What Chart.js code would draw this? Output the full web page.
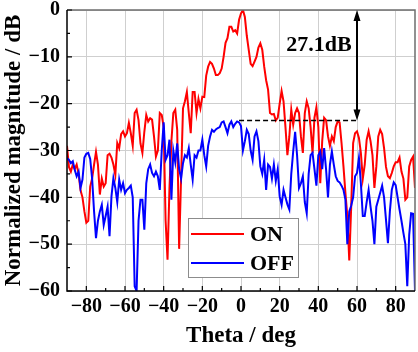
<!DOCTYPE html>
<html>
<head>
<meta charset="utf-8">
<script src="https://cdn.jsdelivr.net/npm/chart.js@4.4.0/dist/chart.umd.min.js"></script>
<style>
  html, body { margin: 0; padding: 0; background: #fff; }
</style>
</head>
<body>
<canvas id="chart" width="418" height="352"></canvas>
<script>
// Angles in degrees
const ANGLES = [
  -90, -89, -88, -87, -86, -85, -84, -83, -82, -81,
  -80, -79, -78, -77, -76, -75, -74, -73, -72, -71,
  -70, -69, -68, -67, -66, -65, -64, -63, -62, -61,
  -60, -59, -58, -57, -56, -55, -54, -53, -52, -51,
  -50, -49, -48, -47, -46, -45, -44, -43, -42, -41,
  -40, -39, -38, -37, -36, -35, -34, -33, -32, -31,
  -30, -29, -28, -27, -26, -25, -24, -23, -22, -21,
  -20, -19, -18, -17, -16, -15, -14, -13, -12, -11,
  -10, -9, -8, -7, -6, -5, -4, -3, -2, -1,
  0, 1, 2, 3, 4, 5, 6, 7, 8, 9,
  10, 11, 12, 13, 14, 15, 16, 17, 18, 19,
  20, 21, 22, 23, 24, 25, 26, 27, 28, 29,
  30, 31, 32, 33, 34, 35, 36, 37, 38, 39,
  40, 41, 42, 43, 44, 45, 46, 47, 48, 49,
  50, 51, 52, 53, 54, 55, 56, 57, 58, 59,
  60, 61, 62, 63, 64, 65, 66, 67, 68, 69,
  70, 71, 72, 73, 74, 75, 76, 77, 78, 79,
  80, 81, 82, 83, 84, 85, 86, 87, 88, 89,
  90
];

// Normalized magnitude (dB), state ON
const ON_DB = [
  -29, -33.5, -34.5, -33, -34, -33, -35, -38.5, -40, -43,
  -45.4, -45, -37.7, -36, -33, -30.3, -33, -39.4, -36, -37.7,
  -37, -31, -30.7, -31.5, -33, -35.2, -28.4, -29.5, -26.5, -25.9,
  -27, -26.3, -24.1, -26.3, -29, -22, -21.3, -23.5, -28.5, -30.5,
  -26, -22.4, -23.8, -23.1, -23.4, -27, -31.3, -30, -22, -22.4,
  -25, -45, -53.3, -38, -28, -22, -21.3, -25.6, -51, -36,
  -21, -19.5, -17.5, -22, -26.3, -17.5, -17.5, -22, -19, -21,
  -18.5, -18.6, -14, -12.1, -11.1, -11.5, -12.5, -13.9, -13.9, -13.5,
  -12.5, -10, -7, -6, -3.6, -3.6, -4.6, -4.3, -5, -2.1,
  -0.7, 0, -1.5, -5.5, -8.5, -11.5, -12, -11, -10, -8,
  -7.1, -8.5, -12.1, -15, -17, -22, -22.3, -22.2, -23.6, -23,
  -20, -17.3, -19.5, -25, -31, -27, -21.3, -24.5, -22, -21,
  -22, -27, -30.5, -22, -19.5, -21, -25, -30.5, -23, -20.8,
  -25, -37, -28, -23, -23.5, -27, -29, -27, -28, -25,
  -23.8, -24, -28.4, -33.4, -39, -44, -53.5, -42, -28.4, -26.3,
  -25.9, -27.3, -30.5, -36, -33, -27.7, -25.9, -28, -31, -38,
  -33.4, -27, -25.6, -26.5, -29.5, -33.5, -35.5, -35.9, -34.8, -33.4,
  -32.5, -32.5, -31.5, -34.5, -36, -40.5, -40, -33.4, -32, -31.3,
  -38
];

// Normalized magnitude (dB), state OFF
const OFF_DB = [
  -31.6, -32, -32.7, -32.3, -34.1, -35.5, -34.5, -38, -36.2, -31.5,
  -30.7, -30.5, -31.8, -36, -43, -48.7, -45, -43, -41.6, -45.9,
  -44, -42, -48.3, -39.8, -35.9, -38, -41, -36.2, -38.4, -37,
  -39.1, -38.4, -38, -37.5, -40, -59, -60, -45, -40.5, -40.5,
  -46.9, -37, -34, -33, -34.8, -35.5, -34.5, -35.5, -38.4, -30,
  -24, -32, -31, -27.7, -40.5, -30, -32.5, -28.5, -34, -36,
  -32.7, -31, -31.5, -29.5, -33, -36.2, -31, -31.5, -30, -30,
  -27.7, -31, -33.4, -29, -27, -25.6, -26, -25.5, -25.2, -25,
  -24, -23.8, -25, -26.3, -24.5, -23.8, -25, -24.3, -23.8, -24,
  -24.8, -30, -28, -25.6, -26.5, -30, -32, -27, -25.9, -28,
  -33.4, -35, -32, -38.4, -33, -33.5, -36, -33, -36.5, -34,
  -39.8, -41.6, -38.4, -40, -41.5, -42.6, -35, -30.2, -26, -31,
  -38, -37, -35.5, -41, -43.4, -35, -31, -30.5, -34, -37.5,
  -31, -30.2, -34, -29.5, -34, -40, -33, -30.2, -33, -35.5,
  -36.5, -36.8, -37.5, -38.4, -40.5, -50, -43, -41.8, -40, -35.5,
  -34.8, -31.6, -37, -44, -44, -41, -38.4, -42, -45, -50,
  -42, -40.5, -39, -37.5, -40, -44.8, -49.8, -43, -38.4, -36.8,
  -37.4, -40, -42.6, -45, -47.6, -50, -59, -48, -43.4, -43.5,
  -60
];

const X_TICKS = [-80, -60, -40, -20, 0, 20, 40, 60, 80];
const X_MINOR = [-70, -50, -30, -10, 10, 30, 50, 70];
const Y_TICKS = [-60, -50, -40, -30, -20, -10, 0];
const Y_MINOR = [-55, -45, -35, -25, -15, -5];

// Annotation: reference level and gap
const REF_LEVEL = -23.6;
const REF_FROM = -1;
const REF_TO = 60;
const PEAK_LEVEL = 0;
const GAP_TEXT = '27.1dB';
const GAP_TEXT_AT = { x: 40.3, y: -7.6 };

const SERIF = "'Liberation Serif', 'Times New Roman', serif";

const toPoints = vals => ANGLES.map((a, i) => ({ x: a, y: vals[i] }));
const minus = v => String(v).replace('-', '\u2212');

// Frame with inward ticks (left/bottom black, top/right grey)
const frameTicks = {
  id: 'frameTicks',
  afterDatasetsDraw(chart) {
    const { ctx, chartArea: a, scales: { x, y } } = chart;
    ctx.save();
    ctx.lineWidth = 1.5;
    ctx.strokeStyle = '#6e6e6e';
    ctx.beginPath();
    ctx.moveTo(a.left, a.top);
    ctx.lineTo(a.right, a.top);
    ctx.lineTo(a.right, a.bottom);
    ctx.stroke();

    ctx.strokeStyle = '#000';
    ctx.beginPath();
    ctx.moveTo(a.left, a.top);
    ctx.lineTo(a.left, a.bottom);
    ctx.lineTo(a.right, a.bottom);
    ctx.stroke();

    ctx.lineWidth = 1.2;
    ctx.beginPath();
    X_TICKS.forEach(v => {
      const px = x.getPixelForValue(v);
      ctx.moveTo(px, a.bottom); ctx.lineTo(px, a.bottom - 5);
    });
    X_MINOR.forEach(v => {
      const px = x.getPixelForValue(v);
      ctx.moveTo(px, a.bottom); ctx.lineTo(px, a.bottom - 3);
    });
    Y_TICKS.forEach(v => {
      const py = y.getPixelForValue(v);
      ctx.moveTo(a.left, py); ctx.lineTo(a.left + 5, py);
    });
    Y_MINOR.forEach(v => {
      const py = y.getPixelForValue(v);
      ctx.moveTo(a.left, py); ctx.lineTo(a.left + 3, py);
    });
    ctx.stroke();
    ctx.restore();
  }
};

// Dashed reference line, double arrow and gap label
const gapAnnotation = {
  id: 'gapAnnotation',
  afterDatasetsDraw(chart) {
    const { ctx, scales: { x, y } } = chart;
    const yRef = y.getPixelForValue(REF_LEVEL);
    const yTop = y.getPixelForValue(PEAK_LEVEL);
    const xa = x.getPixelForValue(REF_TO);
    ctx.save();
    ctx.strokeStyle = '#000';
    ctx.lineWidth = 1.5;
    ctx.setLineDash([5, 3]);
    ctx.beginPath();
    ctx.moveTo(x.getPixelForValue(REF_FROM), yRef);
    ctx.lineTo(xa, yRef);
    ctx.stroke();
    ctx.setLineDash([]);

    ctx.lineWidth = 2;
    ctx.beginPath();
    ctx.moveTo(xa, yTop + 8);
    ctx.lineTo(xa, yRef - 8);
    ctx.stroke();
    ctx.fillStyle = '#000';
    ctx.beginPath();
    ctx.moveTo(xa, yTop);
    ctx.lineTo(xa - 3.5, yTop + 11);
    ctx.lineTo(xa + 3.5, yTop + 11);
    ctx.closePath();
    ctx.moveTo(xa, yRef);
    ctx.lineTo(xa - 3.5, yRef - 11);
    ctx.lineTo(xa + 3.5, yRef - 11);
    ctx.closePath();
    ctx.fill();

    ctx.font = 'bold 22px ' + SERIF;
    ctx.textAlign = 'center';
    ctx.textBaseline = 'middle';
    ctx.fillText(GAP_TEXT, x.getPixelForValue(GAP_TEXT_AT.x), y.getPixelForValue(GAP_TEXT_AT.y));
    ctx.restore();
  }
};

// Boxed legend inside the plot
const boxLegend = {
  id: 'boxLegend',
  afterDraw(chart) {
    const { ctx } = chart;
    const left = 188, top = 218, w = 110, h = 59;
    ctx.save();
    ctx.fillStyle = '#fff';
    ctx.fillRect(left, top, w, h);
    ctx.strokeStyle = '#8c8c8c';
    ctx.lineWidth = 1;
    ctx.strokeRect(left + 0.5, top + 0.5, w, h);
    ctx.font = 'bold 22px ' + SERIF;
    ctx.textBaseline = 'middle';
    ctx.textAlign = 'left';
    chart.data.datasets.slice().reverse().forEach((ds, i) => {
      const cy = top + 16 + i * 29;
      ctx.strokeStyle = ds.borderColor;
      ctx.lineWidth = 2;
      ctx.beginPath();
      ctx.moveTo(left + 3, cy);
      ctx.lineTo(left + 56, cy);
      ctx.stroke();
      ctx.fillStyle = '#000';
      ctx.fillText(ds.label, left + 62, cy + 1);
    });
    ctx.restore();
  }
};

new Chart(document.getElementById('chart'), {
  type: 'line',
  data: {
    datasets: [
      {
        label: 'OFF',
        data: toPoints(OFF_DB),
        borderColor: '#0000ff',
        borderWidth: 2,
        pointRadius: 0,
        tension: 0
      },
      {
        label: 'ON',
        data: toPoints(ON_DB),
        borderColor: '#ff0000',
        borderWidth: 2,
        pointRadius: 0,
        tension: 0
      }
    ]
  },
  options: {
    responsive: false,
    animation: false,
    devicePixelRatio: 1,
    layout: { padding: { top: 10, right: 3, left: 0, bottom: 0 } },
    plugins: {
      legend: { display: false },
      tooltip: { enabled: false }
    },
    scales: {
      x: {
        type: 'linear',
        min: -90,
        max: 90,
        afterBuildTicks: s => { s.ticks = X_TICKS.map(v => ({ value: v })); },
        afterFit: s => { s.height = 61; },
        grid: { color: '#cfcfcf', lineWidth: 1, drawTicks: false },
        border: { display: false },
        ticks: {
          padding: 6,
          color: '#000',
          maxRotation: 0,
          font: { family: SERIF, size: 20, weight: 'bold', lineHeight: 1 },
          callback: v => minus(v)
        },
        title: {
          display: true,
          text: 'Theta / deg',
          color: '#000',
          padding: { top: 0, bottom: 2 },
          font: { family: SERIF, size: 23, weight: 'bold' }
        }
      },
      y: {
        min: -60,
        max: 0,
        afterBuildTicks: s => { s.ticks = Y_TICKS.map(v => ({ value: v })); },
        afterFit: s => { s.width = 67; },
        grid: { color: '#cfcfcf', lineWidth: 1, drawTicks: false },
        border: { display: false },
        ticks: {
          padding: 7,
          color: '#000',
          font: { family: SERIF, size: 20, weight: 'bold', lineHeight: 0.3 },
          callback: v => minus(v)
        },
        title: {
          display: true,
          text: 'Normalized magnitude / dB',
          color: '#000',
          padding: { top: 0, bottom: 0 },
          font: { family: SERIF, size: 23, weight: 'bold' }
        }
      }
    }
  },
  plugins: [frameTicks, gapAnnotation, boxLegend]
});
</script>
</body>
</html>
